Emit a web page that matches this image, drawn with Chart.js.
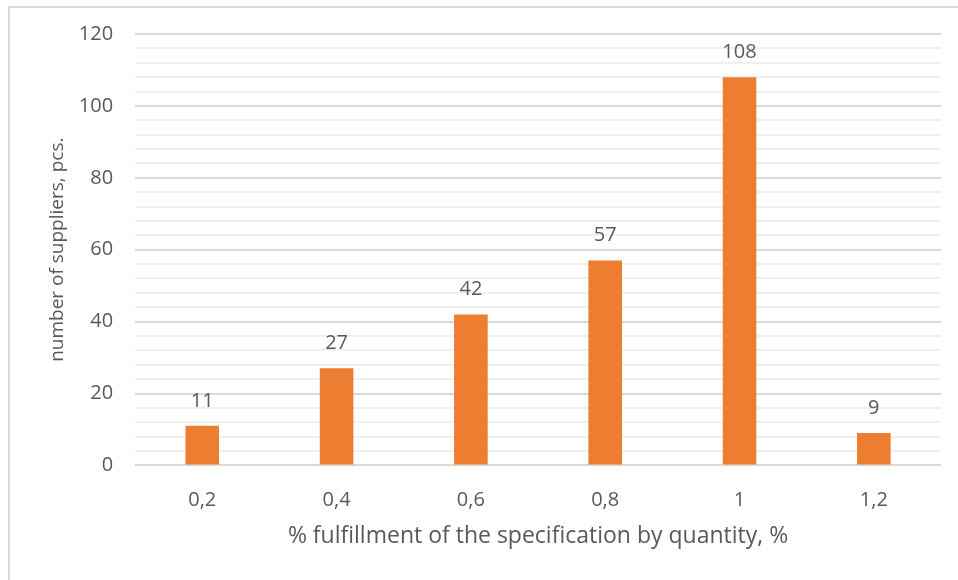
<!DOCTYPE html>
<html>
<head>
<meta charset="utf-8">
<script src="https://cdn.jsdelivr.net/npm/chart.js"></script>
<style>
  html, body { margin: 0; padding: 0; background: #fff; }
  #frame {
    position: absolute; left: 8px; top: 6px; width: 1000px; height: 1000px;
    border-left: 2px solid #d9d9d9; border-top: 2px solid #d9d9d9;
  }
  #chart { position: absolute; left: 0; top: 0; }
</style>
</head>
<body>
<div id="frame"></div>
<canvas id="chart" width="958" height="580"></canvas>
<script>
const categories = ['0,2', '0,4', '0,6', '0,8', '1', '1,2'];
const supplierCounts = [11, 27, 42, 57, 108, 9];
const yTickLabels = [0, 20, 40, 60, 80, 100, 120];

const textColor = '#595959';
const fontFamily = '"Open Sans", Lato, sans-serif';

const valueLabels = {
  id: 'valueLabels',
  afterDatasetsDraw(chart) {
    const ctx = chart.ctx;
    const meta = chart.getDatasetMeta(0);
    ctx.save();
    ctx.fillStyle = textColor;
    ctx.font = '20px ' + fontFamily;
    ctx.textAlign = 'center';
    ctx.textBaseline = 'middle';
    meta.data.forEach((bar, i) => {
      ctx.fillText(supplierCounts[i], bar.x, bar.y - 25);
    });
    ctx.restore();
  }
};

new Chart(document.getElementById('chart'), {
  type: 'bar',
  data: {
    labels: categories,
    datasets: [{
      data: supplierCounts,
      backgroundColor: '#ED7D31',
      barPercentage: 0.25,
      categoryPercentage: 1
    }]
  },
  options: {
    responsive: false,
    animation: false,
    layout: { padding: { left: 46, right: 17, top: 26, bottom: 30 } },
    plugins: { legend: { display: false }, tooltip: { enabled: false } },
    scales: {
      x: {
        grid: { display: false },
        border: { display: false },
        ticks: { color: textColor, font: { size: 20, family: fontFamily }, padding: 15 },
        title: {
          display: true,
          text: '% fulfillment of the specification by quantity, %',
          color: textColor,
          font: { size: 23, family: fontFamily },
          padding: { top: -5, bottom: 0 }
        }
      },
      y: {
        min: 0,
        max: 120,
        border: { display: false },
        grid: {
          color: (c) => (yTickLabels.includes(c.tick.value) ? '#d9d9d9' : '#f0f0f0'),
          lineWidth: 2,
          drawTicks: false
        },
        ticks: {
          stepSize: 4,
          autoSkip: false,
          color: textColor,
          font: { size: 20, family: fontFamily },
          padding: 22,
          callback: (v) => (yTickLabels.includes(v) ? v : '')
        },
        title: {
          display: true,
          text: 'number of suppliers, pcs.',
          color: textColor,
          font: { size: 19, family: fontFamily },
          padding: { top: 0, bottom: -12 }
        }
      }
    }
  },
  plugins: [valueLabels]
});
</script>
</body>
</html>
